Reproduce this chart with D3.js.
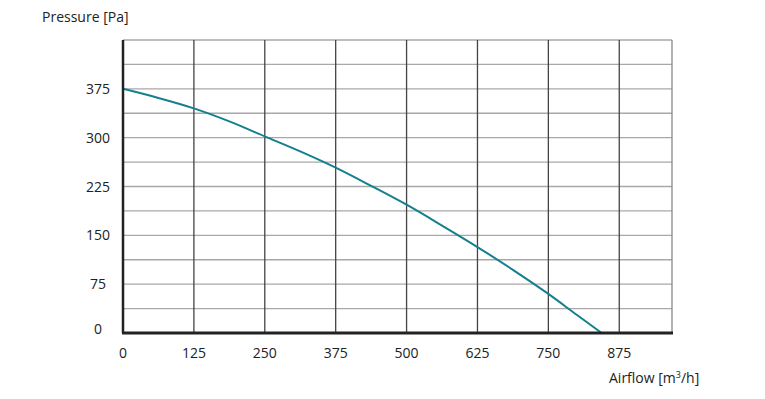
<!DOCTYPE html>
<html><head><meta charset="utf-8">
<script src="https://cdn.jsdelivr.net/npm/d3@7"></script>
<style>body{margin:0;background:#fff;} text{font-family:"Open Sans","Liberation Sans",sans-serif;fill:#222;}</style>
</head><body><svg id="c" width="765" height="399"></svg>
<script>
const airflow = [0, 62.5, 125, 187.5, 250, 312.5, 375, 437.5, 500, 562.5, 625, 687.5, 750, 800, 844];
const pressure = [375, 361, 345, 325, 302, 279, 254, 226, 197, 165, 132, 97, 60, 28, 0];
const xTicks = [0, 125, 250, 375, 500, 625, 750, 875];
const yTicks = [0, 75, 150, 225, 300, 375];
const yGrid = [37.5, 75, 112.5, 150, 187.5, 225, 262.5, 300, 337.5, 375, 412.5, 450];

const svg = d3.select("#c");
const x = d3.scaleLinear().domain([0, 968]).range([123, 672]);
const y = d3.scaleLinear().domain([0, 450]).range([333, 40]);

// horizontal grid
svg.append("g").selectAll("line").data(yGrid).join("line")
  .attr("x1", x(0)).attr("x2", x(968)).attr("y1", d => y(d)).attr("y2", d => y(d))
  .attr("stroke", "#a8a8a8").attr("stroke-width", 1.3);
// vertical grid
svg.append("g").selectAll("line").data(xTicks.slice(1).concat([968])).join("line")
  .attr("x1", d => x(d)).attr("x2", d => x(d)).attr("y1", y(0)).attr("y2", y(450))
  .attr("stroke", d => d === 968 ? "#888" : "#444").attr("stroke-width", 1.3);

// curve
const pts = airflow.map((a, i) => [a, pressure[i]]);
svg.append("path").datum(pts)
  .attr("d", d3.line().x(d => x(d[0])).y(d => y(d[1])).curve(d3.curveMonotoneX))
  .attr("fill", "none").attr("stroke", "#147f8d").attr("stroke-width", 2);

// axes lines
svg.append("line").attr("x1", x(0)).attr("x2", x(0)).attr("y1", y(450)).attr("y2", y(0))
  .attr("stroke", "#222").attr("stroke-width", 2.5);
svg.append("line").attr("x1", x(0) - 1).attr("x2", x(968) + 1).attr("y1", y(0)).attr("y2", y(0))
  .attr("stroke", "#222").attr("stroke-width", 3);

// tick labels
svg.append("g").selectAll("text").data(xTicks).join("text")
  .attr("x", d => x(d)).attr("y", 358).attr("text-anchor", "middle")
  .attr("font-size", 14).text(d => d);
svg.append("g").selectAll("text").data(yTicks).join("text")
  .attr("x", 98).attr("y", d => y(d) + 5 - (d === 0 ? 4 : 0)).attr("text-anchor", "middle")
  .attr("font-size", 14).text(d => d);

svg.append("text").attr("x", 42).attr("y", 22).attr("font-size", 14).text("Pressure [Pa]");
const t = svg.append("text").attr("x", 609).attr("y", 383).attr("font-size", 14);
t.append("tspan").text("Airflow [m");
t.append("tspan").attr("dy", -5).attr("font-size", 9).text("3");
t.append("tspan").attr("dy", 5).text("/h]");
</script></body></html>
